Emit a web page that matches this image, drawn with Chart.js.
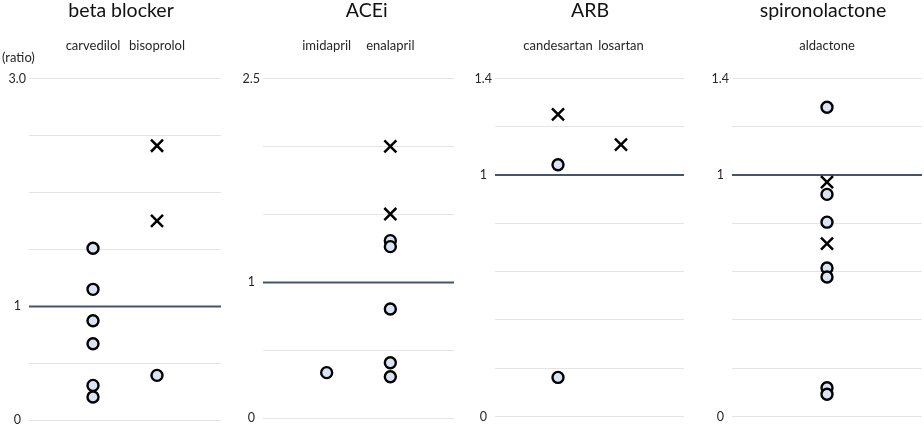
<!DOCTYPE html>
<html lang="en">
<head>
<meta charset="UTF-8">
<title>Ratio by drug</title>
<script src="https://cdn.jsdelivr.net/npm/chart.js"></script>
<style>
    html, body {
        margin: 0;
        padding: 0;
        background: #fff;
        overflow: hidden;
    }
    #wrap {
        position: relative;
        width: 924px;
        height: 424px;
    }
    #wrap canvas {
        position: absolute;
        top: 0;
    }
</style>
</head>
<body>
<div id="wrap"></div>
<script>
// ---- data ----
const panelTitles = ['beta blocker', 'ACEi', 'ARB', 'spironolactone'];

const betaDrugs = ['carvedilol', 'bisoprolol'];
const betaCircles = [[1.51, 1.15, 0.875, 0.673, 0.307, 0.205], [0.395]];
const betaCrosses = [[], [2.41, 1.75]];

const aceDrugs = ['imidapril', 'enalapril'];
const aceCircles = [[0.336], [1.307, 1.263, 0.804, 0.409, 0.306]];
const aceCrosses = [[], [2.0, 1.503]];

const arbDrugs = ['candesartan', 'losartan'];
const arbCircles = [[1.043, 0.162], []];
const arbCrosses = [[1.251], [1.126]];

const spiroDrugs = ['aldactone'];
const spiroCircles = [[1.281, 0.92, 0.805, 0.615, 0.578, 0.119, 0.092]];
const spiroCrosses = [[0.971, 0.716]];

const yMax = [3.0, 2.5, 1.4, 1.4];
const yStep = [0.5, 0.5, 0.2, 0.2];
const refValue = 1;

// ---- layout (canvas placement only) ----
const layoutCfg = [
    {left: 0,   width: 221, axis: 29, bottom: 3.6, titleX: 121},
    {left: 230, width: 224, axis: 33, bottom: 5.7, titleX: 136.7},
    {left: 460, width: 224, axis: 35, bottom: 7.5, titleX: 130},
    {left: 690, width: 232, axis: 42, bottom: 7.5, titleX: 133}
];

const panels = [
    {drugs: betaDrugs, circles: betaCircles, crosses: betaCrosses, unit: '(ratio)'},
    {drugs: aceDrugs, circles: aceCircles, crosses: aceCrosses},
    {drugs: arbDrugs, circles: arbCircles, crosses: arbCrosses},
    {drugs: spiroDrugs, circles: spiroCircles, crosses: spiroCrosses}
];

const FONT = 'Lato, "Noto Sans", sans-serif';

// draws panel title, drug names above the plot, and the unit label
const panelText = {
    id: 'panelText',
    afterDraw(chart, args, opts) {
        const {ctx, scales} = chart;
        ctx.save();
        ctx.textAlign = 'center';
        ctx.textBaseline = 'alphabetic';
        ctx.fillStyle = '#111';
        ctx.font = '19.5px ' + FONT;
        ctx.fillText(opts.title, opts.titleX, 17);

        ctx.font = '13px ' + FONT;
        ctx.fillStyle = '#262626';
        ctx.textBaseline = 'middle';
        opts.drugs.forEach((d, i) => {
            ctx.fillText(d, scales.x.getPixelForValue(i + 1), 46);
        });
        if (opts.unit) {
            ctx.textAlign = 'left';
            ctx.fillText(opts.unit, 2, 58);
        }
        ctx.restore();
    }
};

function toPoints(groups) {
    const pts = [];
    groups.forEach((vals, i) => vals.forEach(v => pts.push({x: i + 1, y: v})));
    return pts;
}

const wrap = document.getElementById('wrap');

panels.forEach((p, k) => {
    const lay = layoutCfg[k];
    const canvas = document.createElement('canvas');
    canvas.width = lay.width;
    canvas.height = 424;
    canvas.style.left = lay.left + 'px';
    canvas.style.width = lay.width + 'px';
    canvas.style.height = '424px';
    wrap.appendChild(canvas);

    const xMax = p.drugs.length + 1;
    const top = yMax[k];

    new Chart(canvas.getContext('2d'), {
        type: 'scatter',
        data: {
            datasets: [{
                type: 'line',
                data: [{x: 0, y: refValue}, {x: xMax, y: refValue}],
                borderColor: '#44546a',
                borderWidth: 2,
                pointRadius: 0,
                order: 3
            }, {
                data: toPoints(p.circles),
                pointStyle: 'circle',
                pointRadius: 5.5,
                borderWidth: 2.4,
                borderColor: '#000',
                backgroundColor: '#dae3f3',
                order: 1
            }, {
                data: toPoints(p.crosses),
                pointStyle: 'crossRot',
                pointRadius: 8.5,
                borderWidth: 2.5,
                borderColor: '#000',
                backgroundColor: '#000',
                order: 1
            }]
        },
        options: {
            responsive: false,
            animation: false,
            devicePixelRatio: 1,
            layout: {
                autoPadding: false,
                padding: {left: 0, right: 0, top: 78.5, bottom: lay.bottom}
            },
            scales: {
                x: {
                    type: 'linear',
                    display: false,
                    min: 0,
                    max: xMax
                },
                y: {
                    min: 0,
                    max: top,
                    border: {display: false},
                    grid: {
                        color: '#e4e4e4',
                        lineWidth: 1,
                        drawTicks: false
                    },
                    ticks: {
                        stepSize: yStep[k],
                        padding: 3,
                        crossAlign: 'center',
                        color: '#262626',
                        font: {family: FONT, size: 12.5},
                        callback: function(v) {
                            if (v === 0) return '0';
                            if (Math.abs(v - refValue) < 1e-9) return '1';
                            if (Math.abs(v - top) < 1e-9) return top.toFixed(1);
                            return '';
                        }
                    },
                    afterFit: function(scale) {
                        scale.width = lay.axis;
                        scale.paddingTop = 0;
                        scale.paddingBottom = 0;
                    }
                }
            },
            plugins: {
                legend: {display: false},
                tooltip: {enabled: false},
                panelText: {
                    title: panelTitles[k],
                    titleX: lay.titleX,
                    drugs: p.drugs,
                    unit: p.unit
                }
            }
        },
        plugins: [panelText]
    });
});
</script>
</body>
</html>
